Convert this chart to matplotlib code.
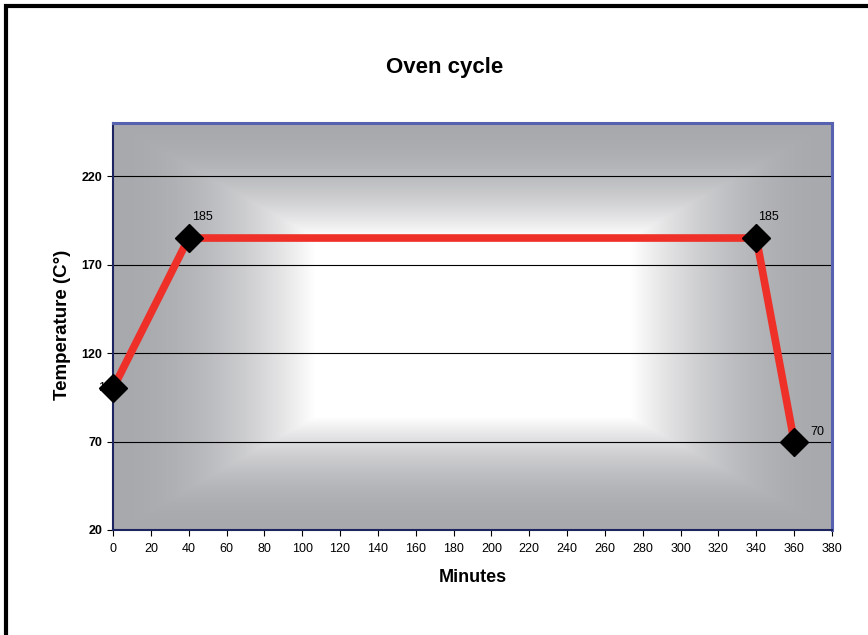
import numpy as np
import matplotlib
matplotlib.use("Agg")
import matplotlib.pyplot as pl
from matplotlib.patches import Rectangle

pl.rcParams["font.family"] = ["Liberation Sans", "DejaVu Sans"]

minutes = [0, 40, 340, 360]
temperature = [100, 185, 185, 70]
point_labels = ["100", "185", "185", "70"]
label_offsets = [(-3.5, 0.5), (10, 15), (8.6, 15), (17, 6.8)]
x_ticks = list(range(0, 381, 20))
y_ticks = [20, 70, 120, 170, 220]


def make_background(nx=719, ny=407):
    # rectangular "from centre" gradient, white in the middle, grey at the edges
    x = np.abs(np.arange(nx) - nx / 2.0)
    y = np.abs(np.arange(ny) - ny / 2.0)
    hw, hh = 158, 90
    tx = np.clip((x - hw) / (nx / 2.0 - hw), 0, 1)
    ty = np.clip((y - hh) / (ny / 2.0 - hh), 0, 1)
    t = np.maximum(tx[None, :], ty[:, None])
    t = 1.0 - (1.0 - t) ** 2
    edge = np.array([0.659, 0.663, 0.678])
    return 1.0 - t[..., None] * (1.0 - edge)


fig = pl.figure(figsize=(8.68, 6.35), dpi=100)
fig.patches.append(Rectangle((6 / 868, -0.1), 1.2, (629 / 635) + 0.1,
                             transform=fig.transFigure, fill=False,
                             edgecolor="black", linewidth=3))

ax = fig.add_axes([113 / 868, 105 / 635, 719 / 868, 407 / 635])
ax.imshow(make_background(), extent=(0, 380, 20, 250), aspect="auto",
          origin="upper", zorder=0, interpolation="bilinear")
for yv in y_ticks[1:]:
    ax.axhline(yv, color="black", linewidth=0.8, zorder=1)

ax.plot(minutes, temperature, color="#ee3028", linewidth=5.5, zorder=2,
        solid_capstyle="butt")
for xv, yv, lab, off in zip(minutes, temperature, point_labels, label_offsets):
    ax.annotate(lab, (xv, yv), xytext=off, textcoords="offset points",
                ha="center", va="center", fontsize=9, zorder=3)
ax.plot(minutes, temperature, linestyle="none", marker="D", markersize=14,
        color="black", zorder=4, clip_on=False)

ax.set_xlim(0, 380)
ax.set_ylim(20, 250)
ax.set_xticks(x_ticks)
ax.set_yticks(y_ticks)
ax.tick_params(axis="both", direction="out", length=4, width=0.8,
               labelsize=9, colors="black")
ax.tick_params(axis="x", pad=5)
for lab in ax.get_yticklabels():
    lab.set_fontweight("bold")

for side in ["left", "bottom"]:
    ax.spines[side].set_color("#1c2560")
    ax.spines[side].set_linewidth(1.5)
for side in ["top", "right"]:
    ax.spines[side].set_color("#5661b0")
    ax.spines[side].set_linewidth(2.2)

fig.text(445 / 868, 1 - 68 / 635, "Oven cycle", fontsize=16,
         fontweight="bold", ha="center", va="center")
ax.set_xlabel("Minutes", fontsize=13, fontweight="bold")
ax.set_ylabel("Temperature (C°)", fontsize=13.5, fontweight="bold")
ax.xaxis.set_label_coords(0.5, -0.097)
ax.yaxis.set_label_coords(-0.059, 0.505)

fig.savefig("out.png", dpi=100)
